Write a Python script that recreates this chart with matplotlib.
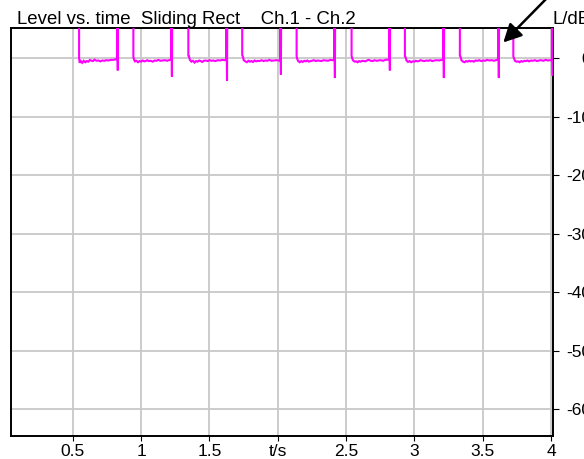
import matplotlib
matplotlib.use("Agg")
import matplotlib.pyplot as plt
import numpy as np

plt.rcParams['font.family'] = ['Liberation Sans', 'DejaVu Sans']

# ---- data ----
title_text = "Level vs. time  Sliding Rect    Ch.1 - Ch.2"
ylabel_text = "L/dB"

xtick_vals = [0.5, 1.0, 1.5, 2.0, 2.5, 3.0, 3.5, 4.0]
xtick_labels = ["0.5", "1", "1.5", "t/s", "2.5", "3", "3.5", "4"]
ytick_vals = [0, -10, -20, -30, -40, -50, -60]
ytick_labels = ["0", "-10", "-20", "-30", "-40", "-50", "-60"]

# segments where the level is inside the visible range (s)
seg_start = [0.547, 0.944, 1.346, 1.740, 2.138, 2.540, 2.930, 3.332, 3.723]
seg_end = [0.830, 1.226, 1.629, 2.023, 2.418, 2.820, 3.215, 3.617, 4.011]
spike_min = [-2.1, -3.2, -3.9, -2.8, -3.4, -2.1, -3.4, -3.4, -3.0]
above_range = 8.0  # level above top of the scale (dB)

# level profile inside each segment (fraction of segment, dB)
frac = [0.0, 0.015, 0.04, 0.08, 0.12, 0.16, 0.20, 0.24, 0.28, 0.32, 0.36,
        0.40, 0.45, 0.50, 0.55, 0.60, 0.65, 0.70, 0.76, 0.82, 0.88, 0.94]
seg_levels = [
    [0.0, -0.8, -0.5, -0.8, -0.45, -0.7, -0.5, -0.6, -0.3, -0.45, -0.5, -0.25, -0.45, -0.4, -0.55, -0.4, -0.45, -0.35, -0.4, -0.3, -0.3, -0.2],
    [0.25, -0.2, -0.55, -0.45, -0.7, -0.5, -0.6, -0.4, -0.55, -0.5, -0.35, -0.5, -0.45, -0.6, -0.4, -0.45, -0.3, -0.45, -0.4, -0.35, -0.45, -0.3],
    [0.4, 0.35, -0.3, -0.6, -0.45, -0.75, -0.5, -0.6, -0.4, -0.5, -0.65, -0.45, -0.4, -0.5, -0.35, -0.45, -0.4, -0.5, -0.35, -0.4, -0.3, -0.35],
    [0.5, 0.3, -0.35, -0.55, -0.7, -0.45, -0.6, -0.5, -0.65, -0.4, -0.55, -0.45, -0.5, -0.35, -0.5, -0.4, -0.45, -0.3, -0.45, -0.4, -0.35, -0.4],
    [0.3, -0.1, -0.5, -0.7, -0.5, -0.65, -0.45, -0.55, -0.4, -0.6, -0.5, -0.45, -0.35, -0.5, -0.4, -0.45, -0.5, -0.35, -0.4, -0.45, -0.3, -0.35],
    [0.4, 0.0, -0.4, -0.6, -0.55, -0.7, -0.5, -0.6, -0.45, -0.5, -0.55, -0.4, -0.3, -0.45, -0.5, -0.35, -0.45, -0.4, -0.35, -0.45, -0.3, -0.25],
    [0.3, 0.2, -0.4, -0.65, -0.5, -0.7, -0.55, -0.6, -0.45, -0.55, -0.5, -0.35, -0.45, -0.5, -0.4, -0.45, -0.35, -0.5, -0.4, -0.35, -0.4, -0.3],
    [0.4, 0.3, -0.35, -0.6, -0.7, -0.5, -0.6, -0.45, -0.55, -0.5, -0.6, -0.4, -0.45, -0.35, -0.5, -0.4, -0.45, -0.3, -0.4, -0.35, -0.45, -0.3],
    [0.3, 0.0, -0.45, -0.6, -0.55, -0.7, -0.5, -0.6, -0.45, -0.5, -0.4, -0.55, -0.4, -0.45, -0.35, -0.5, -0.4, -0.35, -0.45, -0.3, -0.4, -0.35],
]

# ---- build the trace ----
t_pts, l_pts = [], []
for s, e, mn, lv in zip(seg_start, seg_end, spike_min, seg_levels):
    t_pts += [s, s]
    l_pts += [above_range, lv[0]]
    for f, v in zip(frac, lv):
        t_pts.append(s + f * (e - s))
        l_pts.append(v)
    t_pts += [e - 0.006, e - 0.005, e, e + 0.002]
    l_pts += [lv[-1], above_range, mn, above_range]

# ---- figure ----
W, H = 584, 459
fig = plt.figure(figsize=(W / 100, H / 100), dpi=100)
ax_l, ax_r, ax_t, ax_b = 11.0, 552.7, 28.3, 435.5
ax = fig.add_axes([ax_l / W, 1 - ax_b / H, (ax_r - ax_l) / W, (ax_b - ax_t) / H])

ax.plot(t_pts, l_pts, color='#ff00ff', lw=1.5, solid_joinstyle='miter', zorder=3)

ax.set_xlim(0.049, 4.011)
ax.set_ylim(-64.5, 5.1)
ax.set_xticks(xtick_vals)
ax.set_xticklabels(xtick_labels)
ax.set_yticks(ytick_vals)
ax.set_yticklabels(ytick_labels)
ax.yaxis.tick_right()
ax.tick_params(axis='y', direction='out', length=4.3, width=0.8, pad=23.3,
               labelsize=12.5, colors='black')
for lab in ax.get_yticklabels():
    lab.set_horizontalalignment('right')
ax.tick_params(axis='x', direction='out', length=3.5, width=0.8, pad=2.5,
               labelsize=12.5, colors='black')
ax.grid(True, color='#c8c8c8', lw=1.3, zorder=0)
ax.set_axisbelow(True)
for sp in ax.spines.values():
    sp.set_linewidth(1.4)
    sp.set_color('black')

fig.text(17 / W, 1 - 24 / H, title_text, fontsize=13.4, ha='left', va='baseline')
fig.text(553 / W, 1 - 24 / H, ylabel_text, fontsize=13.4, ha='left', va='baseline')

ax.annotate('', xy=(503.3, H - 42.5), xycoords='figure pixels',
            xytext=(549, H + 4), textcoords='figure pixels',
            arrowprops=dict(arrowstyle='-|>,head_length=0.55,head_width=0.28',
                            color='black', lw=1.8, mutation_scale=20,
                            shrinkA=0, shrinkB=0),
            annotation_clip=False)

fig.savefig('out.png', dpi=100)
